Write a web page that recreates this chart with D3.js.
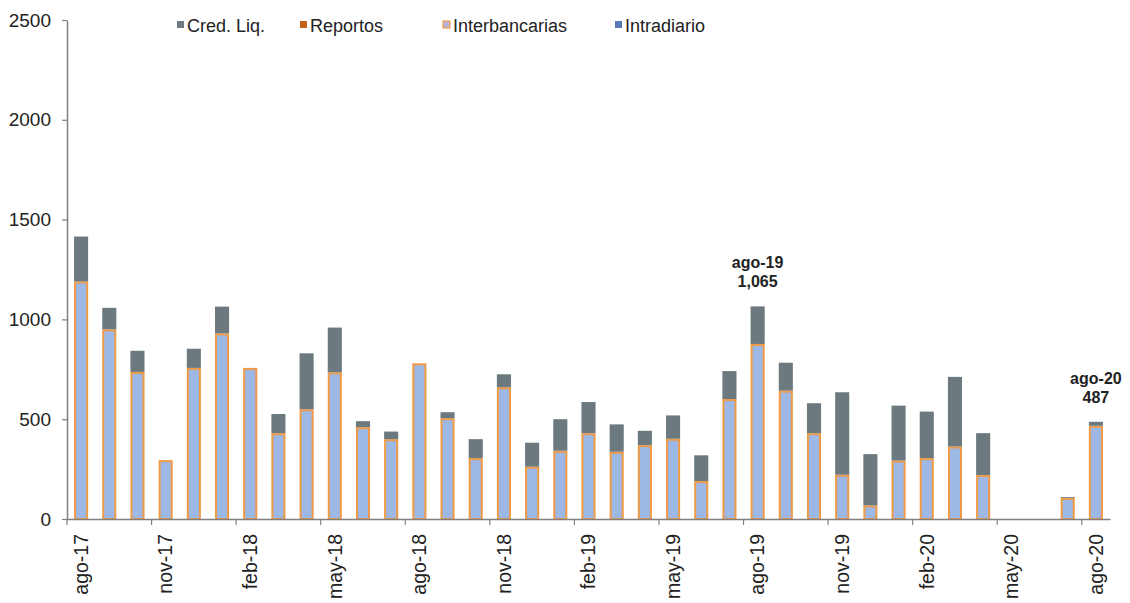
<!DOCTYPE html>
<html><head><meta charset="utf-8">
<script src="https://cdn.jsdelivr.net/npm/d3@7"></script>
<style>
body{margin:0;background:#fff;}
text{font-family:"Liberation Sans",Arial,sans-serif;}
</style></head>
<body><svg id="c" width="1130" height="603"></svg>
<script>
const months = ["ago-17","sep-17","oct-17","nov-17","dic-17","ene-18","feb-18","mar-18","abr-18","may-18","jun-18","jul-18","ago-18","sep-18","oct-18","nov-18","dic-18","ene-19","feb-19","mar-19","abr-19","may-19","jun-19","jul-19","ago-19","sep-19","oct-19","nov-19","dic-19","ene-20","feb-20","mar-20","abr-20","may-20","jun-20","jul-20","ago-20"];
const interbancarias = [1190,950,737,295,757,930,757,430,550,735,460,400,780,505,305,660,262,342,430,337,370,402,190,601,877,643,430,222,68,293,305,363,220,0,0,106,467];
const credLiq = [225,108,106,0,96,134,0,96,280,224,30,38,0,30,95,65,120,158,156,137,72,117,129,140,188,140,150,413,257,275,233,349,210,0,0,4,20];
const reportos = months.map(()=>0);
const intradiario = months.map(()=>0);
const yTicks = [0,500,1000,1500,2000,2500];
const xTickLabels = months.filter((d,i)=>i%3===0);
const seriesNames = ["Cred. Liq.","Reportos","Interbancarias","Intradiario"];
const annotations = [{m:"ago-19", label:"ago-19", value:"1,065"},{m:"ago-20", label:"ago-20", value:"487"}];

const svg = d3.select("#c");
const x = d3.scaleBand().domain(months).range([67,1110]).paddingInner(0.5).paddingOuter(0.25);
const y = d3.scaleLinear().domain([0,2500]).range([519,20]);
const axisColor = "#808080";

// bars
const data = months.map((m,i)=>({m, intra:intradiario[i], inter:interbancarias[i], rep:reportos[i], cred:credLiq[i]}));
const stack = d3.stack().keys(["intra","inter","rep","cred"])(data);
const colors = {intra:"#5a78b8", inter:"#9db8e4", rep:"#c0601a", cred:"#6c7a7f"};
stack.forEach(s=>{
  const g = svg.append("g");
  const isInter = s.key==="inter";
  g.selectAll("rect").data(s.filter(d=>d[1]-d[0]>0)).join("rect")
    .attr("x", d=>x(d.data.m)+ (isInter?1:0))
    .attr("width", x.bandwidth() - (isInter?2:0))
    .attr("y", d=>y(d[1]) + (isInter?1:0))
    .attr("height", d=>Math.max(0, y(d[0])-y(d[1]) - (isInter?1:0)))
    .attr("fill", colors[s.key])
    .attr("stroke", isInter ? "#f09a45" : "none")
    .attr("stroke-width", 2);
});

// y axis
const ya = svg.append("g").attr("transform","translate(67,0)")
  .call(d3.axisLeft(y).tickValues(yTicks).tickSize(5).tickSizeOuter(0).tickPadding(11).tickFormat(d3.format("d")));
ya.select(".domain").attr("stroke",axisColor).attr("stroke-width",1.5);
ya.selectAll(".tick line").attr("stroke",axisColor).attr("stroke-width",1.2);
ya.selectAll("text").attr("font-size",19).attr("fill","#222").style("font-family","Liberation Sans, Arial, sans-serif");

// x axis
const xa = svg.append("g").attr("transform","translate(0,519)")
  .call(d3.axisBottom(x).tickValues(xTickLabels).tickSize(0).tickSizeOuter(0));
xa.select(".domain").attr("stroke",axisColor).attr("stroke-width",1.5);
xa.selectAll(".tick text")
  .attr("transform","rotate(-90)")
  .attr("x",-15).attr("y",0).attr("dy","0.35em")
  .attr("text-anchor","end")
  .attr("font-size",19.5).attr("fill","#222").style("font-family","Liberation Sans, Arial, sans-serif");
const off = (x.step()-x.bandwidth())/2;
svg.append("g").selectAll("line").data(xTickLabels).join("line")
  .attr("x1", d=>x(d)-off).attr("x2", d=>x(d)-off)
  .attr("y1",519).attr("y2",525)
  .attr("stroke",axisColor).attr("stroke-width",1.2);

// annotations
annotations.forEach(a=>{
  const i = months.indexOf(a.m);
  const total = interbancarias[i]+credLiq[i]+reportos[i]+intradiario[i];
  const cx = x(a.m)+x.bandwidth()/2;
  const ty = y(total);
  svg.append("text").attr("x",cx).attr("y",ty-38).attr("text-anchor","middle")
    .attr("font-size",16).attr("font-weight","bold").attr("fill","#222").text(a.label);
  svg.append("text").attr("x",cx).attr("y",ty-19).attr("text-anchor","middle")
    .attr("font-size",16).attr("font-weight","bold").attr("fill","#222").text(a.value);
});

// legend
const legendX = [177,300,443,615];
const legendFill = ["#6c7a7f","#c0601a","#b8b0d8","#5a78b8"];
const legendStroke = ["none","none","#f3a04c","none"];
seriesNames.forEach((n,i)=>{
  svg.append("rect").attr("x",legendX[i]).attr("y",21).attr("width",7).attr("height",7)
    .attr("fill",legendFill[i]).attr("stroke",legendStroke[i]).attr("stroke-width",1.2);
  svg.append("text").attr("x",legendX[i]+10).attr("y",32).attr("font-size",18).attr("fill","#222").text(n);
});
</script></body></html>
